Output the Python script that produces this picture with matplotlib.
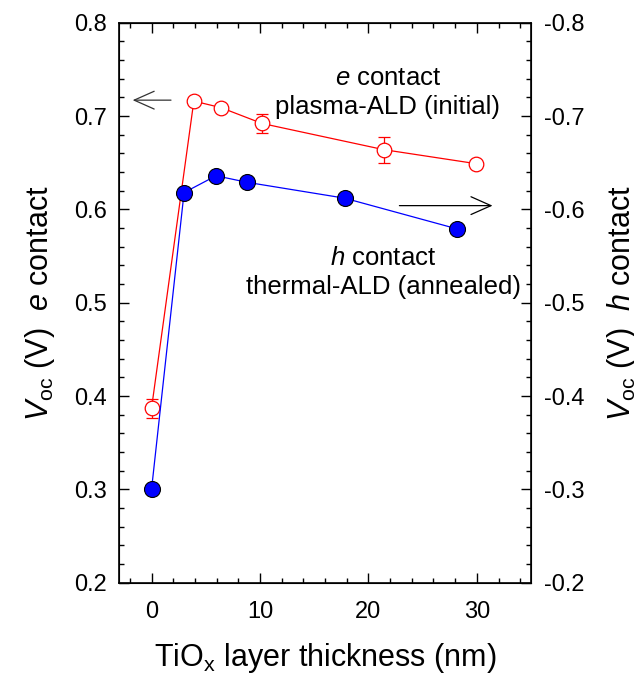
import matplotlib
matplotlib.use('Agg')
import matplotlib.pyplot as plt
from matplotlib.ticker import MultipleLocator

plt.rcParams['font.family'] = ['Liberation Sans', 'DejaVu Sans']
plt.rcParams['mathtext.fontset'] = 'custom'
plt.rcParams['mathtext.rm'] = 'Liberation Sans'
plt.rcParams['mathtext.it'] = 'Liberation Sans:italic'
plt.rcParams['axes.unicode_minus'] = False

# e contact, plasma-ALD (initial) - left axis
x_e = [0, 3.9, 6.4, 10.2, 21.4, 29.9]
v_e = [0.387, 0.716, 0.709, 0.692, 0.664, 0.649]
err_e = [0.010, 0, 0, 0.010, 0.014, 0]

# h contact, thermal-ALD (annealed) - right axis (shown as |Voc|)
x_h = [0, 3.0, 5.95, 8.8, 17.8, 28.2]
v_h = [0.300, 0.618, 0.636, 0.629, 0.612, 0.579]

fig = plt.figure(figsize=(6.34, 6.75), dpi=100)
ax = fig.add_axes([0.1877, 0.1367, 0.65, 0.8297])

ax.errorbar(x_e, v_e, yerr=err_e, color='red', lw=0.9, marker='o', ms=10.5,
            mfc='white', mec='red', mew=0.9, capsize=4.5, elinewidth=0.9, zorder=3)
ax.plot(x_h, v_h, color='blue', lw=0.9, marker='o', ms=11.5,
        mfc='blue', mec='black', mew=0.8, zorder=4)

ax.set_xlim(-3, 35)
ax.set_ylim(0.2, 0.8)
ax.xaxis.set_major_locator(MultipleLocator(10))
ax.xaxis.set_minor_locator(MultipleLocator(2))
ax.yaxis.set_major_locator(MultipleLocator(0.1))
ax.yaxis.set_minor_locator(MultipleLocator(0.02))
ax.tick_params(which='both', direction='in', top=True, labelsize=17, width=1)
ax.tick_params(which='major', length=7)
ax.tick_params(which='minor', length=3.5)
ax.tick_params(axis='x', which='major', pad=13)
ax.tick_params(axis='y', which='major', pad=9)
ax.tick_params(axis='y', right=False)
for s in ax.spines.values():
    s.set_linewidth(1.2)

ax2 = ax.twinx()
ax2.set_ylim(-0.2, -0.8)
ax2.yaxis.set_major_locator(MultipleLocator(0.1))
ax2.yaxis.set_minor_locator(MultipleLocator(0.02))
ax2.tick_params(which='both', direction='in', labelsize=17, width=1)
ax2.tick_params(which='major', length=7, pad=9)
ax2.tick_params(which='minor', length=3.5)
ax2.yaxis.set_major_formatter(plt.FuncFormatter(lambda v, p: f'{v:.1f}'))

ax.set_xlabel(r'TiO$_{\rm x}$ layer thickness (nm)', fontsize=22, labelpad=13)
ax.set_ylabel(r'$\it{V}$$_{\rm oc}$ (V)  $\it{e}$ contact', fontsize=22, labelpad=12)
ax2.set_ylabel(r'$\it{V}$$_{\rm oc}$ (V)  $\it{h}$ contact', fontsize=22,
               rotation=90, labelpad=15)

ax.text(21.8, 0.741, r'$\it{e}$ contact', ha='center', va='center', fontsize=18.5)
ax.text(21.8, 0.710, 'plasma-ALD (initial)', ha='center', va='center', fontsize=18.5)
ax.text(21.4, 0.548, r'$\it{h}$ contact', ha='center', va='center', fontsize=18.5)
ax.text(21.4, 0.517, 'thermal-ALD (annealed)', ha='center', va='center', fontsize=18.5)

ax.annotate('', xy=(-2.0, 0.717), xytext=(2.05, 0.717),
            arrowprops=dict(arrowstyle='->,head_length=0.9,head_width=0.4', mutation_scale=16,
                            color='#333333', lw=0.9))
ax.annotate('', xy=(31.7, 0.604), xytext=(22.6, 0.604),
            arrowprops=dict(arrowstyle='->,head_length=0.9,head_width=0.4', mutation_scale=16,
                            color='black', lw=0.9))

fig.savefig('out.png', dpi=100)
